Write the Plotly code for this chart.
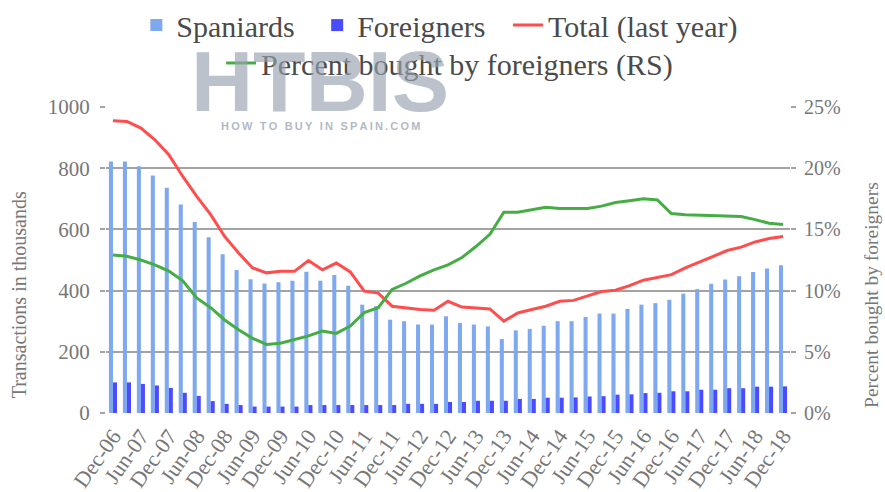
import plotly.graph_objects as go

# ---------------- data (thousands of transactions, quarterly, Dec-06 .. Dec-18) -------------
month_cycle = ["Dec", "Mar", "Jun", "Sep"]
quarters = [f"{month_cycle[i % 4]}-{6 + (i + 3) // 4:02d}" for i in range(49)]

tick_labels = ["Dec-06", "Jun-07", "Dec-07", "Jun-08", "Dec-08", "Jun-09", "Dec-09",
               "Jun-10", "Dec-10", "Jun-11", "Dec-11", "Jun-12", "Dec-12", "Jun-13",
               "Dec-13", "Jun-14", "Dec-14", "Jun-15", "Dec-15", "Jun-16", "Dec-16",
               "Jun-17", "Dec-17", "Jun-18", "Dec-18"]

spaniards = [822, 822, 806, 776, 736, 681, 624, 574, 519, 467, 437, 423, 427, 432, 462,
             432, 451, 416, 354, 349, 305, 300, 289, 289, 316, 294, 289, 283, 242, 270,
             275, 285, 300, 300, 314, 325, 325, 340, 354, 359, 370, 390, 405, 422, 436,
             447, 461, 472, 483]

foreigners = [100, 100, 95, 90, 82, 66, 56, 39, 30, 26, 21, 21, 21, 21, 26,
              26, 26, 26, 26, 26, 26, 30, 30, 30, 36, 36, 40, 40, 40, 46,
              46, 50, 50, 51, 54, 55, 60, 61, 65, 66, 71, 71, 76, 76, 81,
              81, 86, 86, 87]

total_last_year = [955, 953, 931, 893, 844, 773, 708, 648, 577, 523, 474, 458, 463, 463, 498,
                   468, 490, 461, 398, 392, 349, 343, 338, 336, 365, 346, 343, 340, 300, 327,
                   338, 349, 365, 368, 383, 397, 401, 416, 434, 442, 452, 474, 492, 512, 531,
                   542, 559, 570, 577]

pct_foreigners = [12.9, 12.8, 12.5, 12.1, 11.6, 10.8, 9.4, 8.6, 7.6, 6.8, 6.1, 5.6, 5.7, 6.0, 6.3,
                  6.7, 6.5, 7.1, 8.2, 8.6, 10.1, 10.6, 11.2, 11.7, 12.1, 12.7, 13.6, 14.6, 16.4, 16.4,
                  16.6, 16.8, 16.7, 16.7, 16.7, 16.9, 17.2, 17.35, 17.5, 17.4, 16.3, 16.2, 16.15, 16.15, 16.1,
                  16.05, 15.8, 15.5, 15.4]

left_ticks = [0, 200, 400, 600, 800, 1000]
right_ticks = [0, 5, 10, 15, 20, 25]

# ---------------- styles ----------------
SERIF = "Liberation Serif, Times New Roman, serif"
GRID = "#a3a3a3"
TICKC = "#777777"
GAP = "\u2002\u200a"

fig = go.Figure()
fig.add_bar(x=quarters, y=spaniards, name="Spaniards" + GAP, marker_color="#7ea8ef",
            marker_line_width=0, legend="legend")
fig.add_bar(x=quarters, y=foreigners, name="Foreigners" + GAP, marker_color="#4b4bff",
            marker_line_width=0, legend="legend")
fig.add_scatter(x=quarters, y=total_last_year, mode="lines", name="Total (last year)",
                line=dict(color="#ff4d4d", width=3), legend="legend")
fig.add_scatter(x=quarters, y=pct_foreigners, mode="lines", yaxis="y2",
                name="Percent bought by foreigners (RS)",
                line=dict(color="#46ad46", width=3), legend="legend2")

fig.update_layout(
    width=885, height=492,
    margin=dict(l=106, r=95, t=107, b=79, autoexpand=False),
    paper_bgcolor="white", plot_bgcolor="white",
    barmode="group", bargap=0.42, bargroupgap=0,
    showlegend=True,
    legend=dict(orientation="h", xref="container", x=0.497, xanchor="center",
                yref="container", y=0.949, yanchor="middle",
                font=dict(family=SERIF, size=30, color="#4a4a4a"),
                bgcolor="rgba(0,0,0,0)"),
    legend2=dict(orientation="h", xref="container", x=0.508, xanchor="center",
                 yref="container", y=0.872, yanchor="middle",
                 font=dict(family=SERIF, size=30, color="#4a4a4a"),
                 bgcolor="rgba(0,0,0,0)"),
    xaxis=dict(type="category", tickmode="array", tickvals=tick_labels, ticktext=tick_labels,
               tickangle=-55, tickfont=dict(family=SERIF, size=22, color=TICKC),
               ticklabelstandoff=5,
               showgrid=False, zeroline=False, showline=False, ticks="", automargin=False),
    yaxis=dict(range=[0, 1000], tickmode="array", tickvals=left_ticks,
               tickfont=dict(family=SERIF, size=21, color=TICKC),
               showgrid=True, gridcolor=GRID, gridwidth=2, zeroline=False, showline=False,
               ticks="outside", ticklen=5, tickcolor=GRID, tickwidth=2,
               ticklabelstandoff=6, automargin=False),
    yaxis2=dict(range=[0, 25], overlaying="y", side="right", tickmode="array",
                tickvals=right_ticks, ticktext=[f"{v}%" for v in right_ticks],
                tickfont=dict(family=SERIF, size=20, color=TICKC),
                showgrid=False, zeroline=False, showline=False,
                ticks="outside", ticklen=5, tickcolor=GRID, tickwidth=2,
                ticklabelstandoff=4, automargin=False),
    annotations=[
        dict(text="HTBIS", xref="paper", yref="paper", x=0.3129, y=1.085,
             xanchor="center", yanchor="middle", showarrow=False,
             font=dict(family="Liberation Sans, Arial, sans-serif", size=86,
                       color="rgba(150,162,175,0.65)", weight="bold")),
        dict(text="H\u2009O\u2009W\u2009 \u2009T\u2009O\u2009 \u2009B\u2009U\u2009Y\u2009 \u2009I\u2009N\u2009 \u2009S\u2009P\u2009A\u2009I\u2009N\u2009.\u2009C\u2009O\u2009M",
             xref="paper", yref="paper", x=0.3129, y=0.938,
             xanchor="center", yanchor="middle", showarrow=False,
             font=dict(family="Liberation Sans, Arial, sans-serif", size=11,
                       color="rgba(150,162,175,0.75)", weight="bold")),
        dict(text="Transactions in thousands", xref="paper", yref="paper",
             x=-0.128, y=0.386, xanchor="center", yanchor="middle", textangle=-90,
             showarrow=False, font=dict(family=SERIF, size=20, color=TICKC)),
        dict(text="Percent bought by foreigners", xref="paper", yref="paper",
             x=1.12, y=0.386, xanchor="center", yanchor="middle", textangle=-90,
             showarrow=False, font=dict(family=SERIF, size=19.5, color=TICKC)),
    ],
)

fig.write_html("out.html", config={"displayModeBar": False},
               post_script="document.body.style.margin='0';document.body.style.overflow='hidden';")
